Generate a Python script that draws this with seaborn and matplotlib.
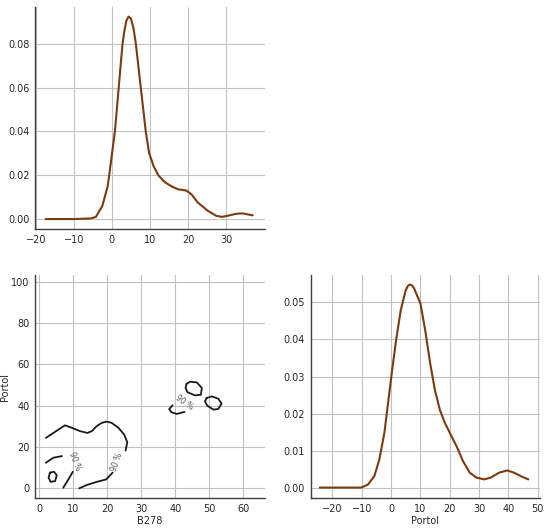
import numpy as np
import pandas as pd
import matplotlib.pyplot as plt
import seaborn as sns

sns.set_style("whitegrid", {"axes.edgecolor": ".25", "grid.color": ".76"})

# KDE of B278
b278_x = [-17.4, -10, -5.5, -4.2, -2.5, -1.1, -0.7, 0.8, 1.8, 2.8, 3.3, 3.8, 4.4,
          5.0, 5.7, 6.3, 7.6, 8.9, 9.8, 11.0, 12.2, 13.8, 15.6, 17.4, 19.6, 20.9,
          22.6, 25.2, 27.4, 28.9, 30.4, 32.6, 34.3, 37.0]
b278_y = [0.0, 0.0, 0.0003, 0.001, 0.006, 0.015, 0.020, 0.040, 0.060, 0.080,
          0.086, 0.0905, 0.0924, 0.0915, 0.087, 0.080, 0.060, 0.040, 0.030, 0.024,
          0.020, 0.017, 0.015, 0.0136, 0.013, 0.0113, 0.0075, 0.0038, 0.0015,
          0.001, 0.0015, 0.0024, 0.0026, 0.0017]

# KDE of Portol
portol_x = [-24.3, -10.2, -7.9, -5.7, -4.0, -2.3, -0.9, 0.5, 1.8, 3.3, 5.0, 5.7,
            6.4, 7.1, 7.8, 10.0, 11.6, 13.3, 14.9, 16.6, 18.3, 20.0, 22.3, 24.5,
            26.8, 29.0, 31.8, 34.0, 36.8, 39.6, 41.9, 44.6, 46.8]
portol_y = [0.0002, 0.0002, 0.001, 0.0033, 0.0078, 0.0149, 0.0238, 0.0327, 0.0403,
            0.0479, 0.0532, 0.0543, 0.0547, 0.0545, 0.0537, 0.0496, 0.0425, 0.0336,
            0.0265, 0.0211, 0.0176, 0.0149, 0.0113, 0.0073, 0.0042, 0.0029, 0.0024,
            0.0029, 0.0042, 0.0048, 0.0042, 0.0031, 0.0024]

# 90 % contour pieces (B278, Portol)
contour_a = [(2.0, 24.4), (7.6, 30.5), (9.6, 29.3), (12.0, 27.7), (14.2, 26.8),
             (15.5, 27.7), (16.9, 30.1), (18.4, 31.7), (19.9, 32.3), (21.3, 31.7),
             (23.3, 29.3), (25.0, 26.0), (25.9, 22.3), (25.4, 18.3)]
contour_b = [(21.6, 7.6), (19.7, 4.3), (16.9, 3.1), (14.0, 1.6), (11.8, 0.0)]
contour_c = [(2.0, 12.4), (4.2, 14.8), (6.7, 15.6)]
contour_d = [(9.9, 8.0), (8.6, 4.3), (7.1, 0.3)]
contour_e = [(3.2, 7.6), (4.4, 8.0), (5.2, 6.3), (4.7, 3.5), (3.4, 3.1),
             (2.8, 5.1), (3.2, 7.6)]
contour_f = [(39.2, 40.2), (38.2, 38.4), (38.9, 36.8), (40.4, 36.0), (42.7, 37.0)]
contour_g = [(43.3, 50.6), (44.3, 51.6), (46.3, 51.3), (47.8, 48.6), (47.5, 45.3),
             (45.8, 45.0), (43.6, 46.5), (43.0, 48.6), (43.3, 50.6)]
contour_h = [(49.2, 43.7), (50.7, 44.5), (52.6, 43.4), (53.6, 41.0), (52.6, 38.4),
             (51.2, 38.1), (49.4, 40.0), (48.7, 42.1), (49.2, 43.7)]
contours = [contour_a, contour_b, contour_c, contour_d, contour_e,
            contour_f, contour_g, contour_h]
label_pos = [(23.0, 12.9, 70), (10.3, 13.2, -70), (42.7, 41.8, -35)]

kde_color = "#7b3a12"

fig = plt.figure(figsize=(5.5, 5.28), dpi=100)
ax_top = fig.add_axes([0.0636, 0.566, 0.418, 0.420])
ax_joint = fig.add_axes([0.0636, 0.0568, 0.418, 0.422])
ax_right = fig.add_axes([0.565, 0.0568, 0.416, 0.422])

sns.lineplot(x=b278_x, y=b278_y, ax=ax_top, color=kde_color, lw=1.5)
ax_top.set_xlim(-20.2, 40.2)
ax_top.set_ylim(-0.0046, 0.0966)
ax_top.set_xticks([-20, -10, 0, 10, 20, 30])
ax_top.set_yticks([0.0, 0.02, 0.04, 0.06, 0.08])
ax_top.yaxis.set_major_formatter(plt.FormatStrFormatter("%.2f"))

sns.lineplot(x=portol_x, y=portol_y, ax=ax_right, color=kde_color, lw=1.5)
ax_right.set_xlim(-27.4, 50.6)
ax_right.set_ylim(-0.0026, 0.0572)
ax_right.set_xticks([-20, -10, 0, 10, 20, 30, 40, 50])
ax_right.set_yticks([0.0, 0.01, 0.02, 0.03, 0.04, 0.05])
ax_right.yaxis.set_major_formatter(plt.FormatStrFormatter("%.2f"))
ax_right.set_xlabel("Portol", fontsize=7)

for seg in contours:
    df = pd.DataFrame(seg, columns=["B278", "Portol"])
    sns.lineplot(data=df, x="B278", y="Portol", sort=False, ax=ax_joint,
                 color="#1a1a1a", lw=1.3, estimator=None)
for x, y, rot in label_pos:
    ax_joint.text(x, y, "90 %", fontsize=5.5, color="#555555", rotation=rot,
                  ha="center", va="center")
ax_joint.set_xlim(-1.2, 66.3)
ax_joint.set_ylim(-4.7, 103.2)
ax_joint.set_xticks([0, 10, 20, 30, 40, 50, 60])
ax_joint.set_yticks([0, 20, 40, 60, 80, 100])
ax_joint.set_xlabel("B278", fontsize=7)
ax_joint.set_ylabel("Portol", fontsize=7)

for ax in (ax_top, ax_joint, ax_right):
    ax.tick_params(labelsize=7, length=0, pad=4)
    for s in ("left", "bottom"):
        ax.spines[s].set_linewidth(1.0)
    ax.xaxis.labelpad = 2
    ax.yaxis.labelpad = 1
    sns.despine(ax=ax)

plt.savefig("out.png", dpi=100)
